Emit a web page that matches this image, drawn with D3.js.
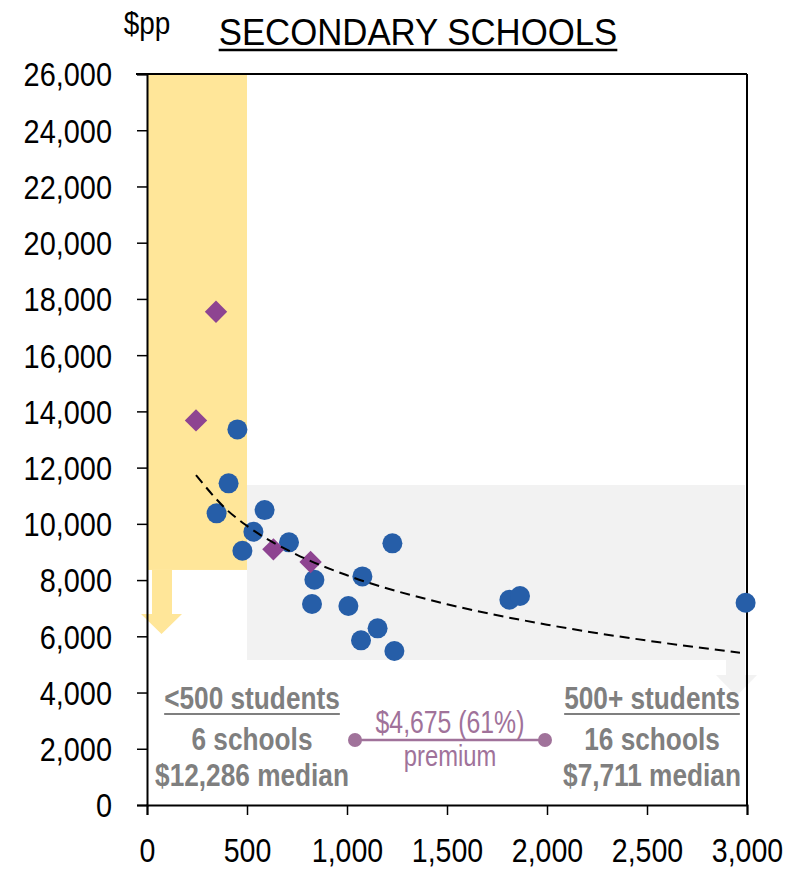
<!DOCTYPE html>
<html>
<head>
<meta charset="utf-8">
<script src="https://cdn.jsdelivr.net/npm/d3@7/dist/d3.min.js"></script>
<style>
  html, body { margin: 0; padding: 0; background: #fff; }
  svg { display: block; }
  text { font-family: "Liberation Sans", Arial, sans-serif; }
</style>
</head>
<body>
<svg id="chart" width="795" height="879"></svg>
<script>
// ---------- data ----------
const xTickValues = [0, 500, 1000, 1500, 2000, 2500, 3000];
const yTickValues = [0, 2000, 4000, 6000, 8000, 10000, 12000, 14000, 16000, 18000, 20000, 22000, 24000, 26000];

// blue circles: other schools (students, $ per pupil)
const circleStudents = [452, 408, 348, 477, 588, 532, 710, 1227, 837, 1077, 825, 1007, 1153, 1070, 1237, 1812, 1865, 2993];
const circleSpend    = [13360, 11440, 10373, 9044, 10490, 9720, 9342, 9306, 8012, 8130, 7148, 7077, 6283, 5856, 5476, 7302, 7432, 7195];

// purple diamonds: highlighted schools
const diamondStudents = [345, 245, 632, 818];
const diamondSpend    = [17543, 13680, 9093, 8641];

// trend line (logarithmic fit)
const trendStudents = [245, 400, 500, 750, 1000, 1500, 2000, 2500, 2965];
const trendSpend    = [11735, 10493, 9927, 8900, 8171, 7143, 6414, 5849, 5416];

// summary labels
const smallLabels = ["<500 students", "6 schools", "$12,286 median"];
const largeLabels = ["500+ students", "16 schools", "$7,711 median"];
const premiumLabels = ["$4,675 (61%)", "premium"];
const titleText = "SECONDARY SCHOOLS";
const unitText = "$pp";

// ---------- layout ----------
const svg = d3.select("#chart");
const x = d3.scaleLinear().domain([0, 3000]).range([147, 747]);
const y = d3.scaleLinear().domain([0, 26000]).range([805, 74]);

// shaded bands (data units)
const yellowBand = { x0: 0, x1: 500, y0: 8360, y1: 26000 };
const greyBand = { x0: 500, x1: 2990, y0: 5157, y1: 11380 };

const YELLOW = "#FFE699";
const GREY_BG = "#F2F2F2";
const BLUE = "#265EA8";
const PURPLE = "#8E4491";
const ANN = "#7F7F7F";
const MAUVE = "#A0729A";

// yellow band
svg.append("rect")
  .attr("x", x(yellowBand.x0)).attr("y", y(yellowBand.y1))
  .attr("width", x(yellowBand.x1) - x(yellowBand.x0))
  .attr("height", y(yellowBand.y0) - y(yellowBand.y1))
  .attr("fill", YELLOW);
// yellow arrow under band
(function () {
  const top = y(yellowBand.y0), sx0 = 152, sx1 = 172, hy = 614, hx0 = 141, hx1 = 182, tip = 634;
  const cx = (hx0 + hx1) / 2;
  svg.append("path")
    .attr("d", `M${sx0},${top}L${sx1},${top}L${sx1},${hy}L${hx1},${hy}L${cx},${tip}L${hx0},${hy}L${sx0},${hy}Z`)
    .attr("fill", YELLOW);
})();

// grey band
svg.append("rect")
  .attr("x", x(greyBand.x0)).attr("y", y(greyBand.y1))
  .attr("width", x(greyBand.x1) - x(greyBand.x0))
  .attr("height", y(greyBand.y0) - y(greyBand.y1))
  .attr("fill", GREY_BG);
(function () {
  const top = y(greyBand.y0), sx0 = 726, sx1 = 745, hy = 675, hx0 = 716, hx1 = 757, tip = 696;
  const cx = (hx0 + hx1) / 2;
  svg.append("path")
    .attr("d", `M${sx0},${top}L${sx1},${top}L${sx1},${hy}L${hx1},${hy}L${cx},${tip}L${hx0},${hy}L${sx0},${hy}Z`)
    .attr("fill", GREY_BG);
})();

// ---------- axes ----------
const yAxis = svg.append("g").attr("transform", `translate(${x(0)},0)`)
  .call(d3.axisLeft(y).tickValues(yTickValues).tickFormat(d3.format(",")).tickSize(10).tickPadding(0));
const xAxis = svg.append("g").attr("transform", `translate(0,${y(0)})`)
  .call(d3.axisBottom(x).tickValues(xTickValues).tickFormat(d3.format(",")).tickSize(10).tickPadding(0));
[yAxis, xAxis].forEach(g => {
  g.select(".domain").attr("stroke", "#000").attr("stroke-width", 2);
  g.selectAll(".tick line").attr("stroke", "#000").attr("stroke-width", 1.5);
  g.selectAll(".tick text").attr("fill", "#000").attr("font-size", 34)
    .attr("font-family", "'Liberation Sans', Arial, sans-serif");
});
yAxis.selectAll(".tick text").attr("x", 0).attr("dy", "0.35em")
  .attr("transform", "translate(-35,0) scale(0.85,1)");
xAxis.selectAll(".tick text").attr("y", 0).attr("dy", "0.71em")
  .attr("transform", "translate(0,33) scale(0.84,1)");
// top and right frame
svg.append("line").attr("x1", 136).attr("x2", x(3000)).attr("y1", y(26000)).attr("y2", y(26000))
  .attr("stroke", "#000").attr("stroke-width", 2);
svg.append("line").attr("x1", x(3000)).attr("x2", x(3000)).attr("y1", y(26000)).attr("y2", y(0))
  .attr("stroke", "#000").attr("stroke-width", 2);

// ---------- marks ----------
svg.append("g").selectAll("circle")
  .data(circleStudents.map((s, i) => [s, circleSpend[i]]))
  .join("circle")
  .attr("cx", d => x(d[0])).attr("cy", d => y(d[1])).attr("r", 10)
  .attr("fill", BLUE);

const diamond = d3.symbol().type(d3.symbolSquare).size(250);
svg.append("g").selectAll("path")
  .data(diamondStudents.map((s, i) => [s, diamondSpend[i]]))
  .join("path")
  .attr("d", diamond)
  .attr("transform", d => `translate(${x(d[0])},${y(d[1])}) rotate(45)`)
  .attr("fill", PURPLE);

const trendLine = d3.line().x(d => x(d[0])).y(d => y(d[1])).curve(d3.curveMonotoneX);
svg.append("path")
  .datum(trendStudents.map((s, i) => [s, trendSpend[i]]))
  .attr("d", trendLine)
  .attr("fill", "none").attr("stroke", "#000").attr("stroke-width", 2)
  .attr("stroke-dasharray", "10,6");

// ---------- text helpers ----------
function label(str, cx, baseline, opts) {
  const t = svg.append("text")
    .attr("transform", `translate(${cx},${baseline}) scale(${opts.sx},1)`)
    .attr("text-anchor", opts.anchor || "middle")
    .attr("font-size", opts.size)
    .attr("font-weight", opts.weight || "normal")
    .attr("fill", opts.fill || "#000")
    .text(str);
  if (opts.underline) {
    const bb = t.node().getBoundingClientRect();
    svg.append("line")
      .attr("x1", bb.left).attr("x2", bb.right)
      .attr("y1", baseline + opts.underline).attr("y2", baseline + opts.underline)
      .attr("stroke", opts.fill || "#000").attr("stroke-width", opts.ulw || 2);
  }
  return t;
}

// title and unit
label(titleText, 418, 45, { sx: 0.94, size: 37, underline: 5, ulw: 2.5 });
label(unitText, 147, 34, { sx: 0.9, size: 31 });

// summary annotations
const smallX = 252, largeX = 652;
const rowsY = [709, 750, 786];
smallLabels.forEach((s, i) => label(s, smallX, rowsY[i], { sx: 0.82, size: 32, weight: "bold", fill: ANN, underline: i === 0 ? 5 : 0, ulw: 2 }));
largeLabels.forEach((s, i) => label(s, largeX, rowsY[i], { sx: 0.82, size: 32, weight: "bold", fill: ANN, underline: i === 0 ? 5 : 0, ulw: 2 }));

// premium connector
svg.append("line").attr("x1", 355).attr("x2", 545).attr("y1", 740).attr("y2", 740)
  .attr("stroke", MAUVE).attr("stroke-width", 2.5);
svg.selectAll("circle.end").data([355, 545]).join("circle").attr("class", "end")
  .attr("cx", d => d).attr("cy", 740).attr("r", 7).attr("fill", MAUVE);
label(premiumLabels[0], 450, 733, { sx: 0.8, size: 31, fill: MAUVE });
label(premiumLabels[1], 450, 766, { sx: 0.82, size: 29, fill: MAUVE });
</script>
</body>
</html>
